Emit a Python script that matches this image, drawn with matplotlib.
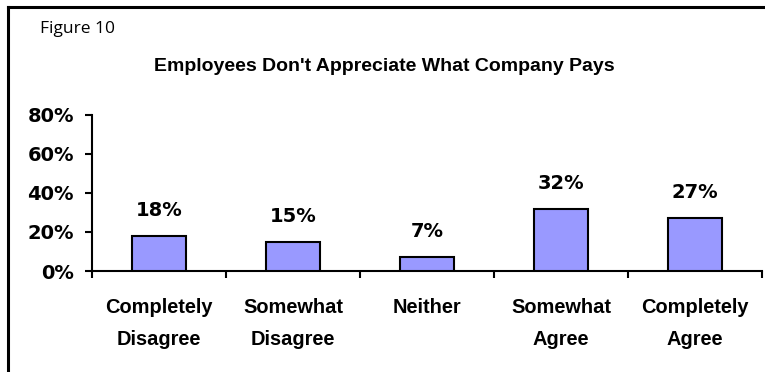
import matplotlib
matplotlib.use("Agg")
import matplotlib.pyplot as plt
from matplotlib.lines import Line2D

plt.rcParams['font.family'] = ['Liberation Sans', 'DejaVu Sans']

categories = ["Completely\nDisagree", "Somewhat\nDisagree", "Neither",
              "Somewhat\nAgree", "Completely\nAgree"]
values = [18, 15, 7, 32, 27]
yticks = [0, 20, 40, 60, 80]

pct_font = dict(family="DejaVu Sans", fontsize=14, fontweight="bold")

fig = plt.figure(figsize=(7.65, 3.72), dpi=100)
ax = fig.add_axes([0.1203, 0.2715, 0.8757, 0.4195])

x = range(len(categories))
ax.bar(x, values, width=0.40, color="#9999FF", edgecolor="black", linewidth=1.5, zorder=3)
for xi, v in zip(x, values):
    ax.annotate(f"{v}%", (xi, v), xytext=(0, 14.4), textcoords="offset points",
                ha="center", va="baseline", **pct_font)

ax.set_xlim(-0.5, len(categories) - 0.5)
ax.set_ylim(0, 80)
ax.set_yticks(yticks)
ax.set_yticklabels([f"{t}%" for t in yticks], **pct_font)

# category ticks sit on the boundaries, labels in between
ax.set_xticks([i - 0.5 for i in range(len(categories) + 1)])
ax.set_xticklabels([])
ax.set_xticks(list(x), minor=True)
ax.set_xticklabels(categories, minor=True, fontsize=14.4, fontweight="bold",
                   linespacing=1.84)
ax.tick_params(axis="x", which="major", length=5, width=1.5, direction="out")
ax.tick_params(axis="x", which="minor", length=0, pad=19.5)
ax.tick_params(axis="y", length=5, width=1.5, pad=8)

for s in ("top", "right"):
    ax.spines[s].set_visible(False)
for s in ("left", "bottom"):
    ax.spines[s].set_linewidth(1.5)

fig.text(0.502, 0.809, "Employees Don't Appreciate What Company Pays",
         ha="center", va="baseline", fontsize=14, fontweight="bold")
fig.text(0.052, 0.911, "Figure 10", ha="left", va="baseline", fontsize=12.5,
         family=["Open Sans", "DejaVu Sans"])

# frame along the top and left edges
fig.add_artist(Line2D([0.0105, 1.0], [0.982, 0.982], color="black", lw=2.2))
fig.add_artist(Line2D([0.0105, 0.0105], [0.0, 0.982], color="black", lw=2.2))

fig.savefig("out.png", dpi=100)
